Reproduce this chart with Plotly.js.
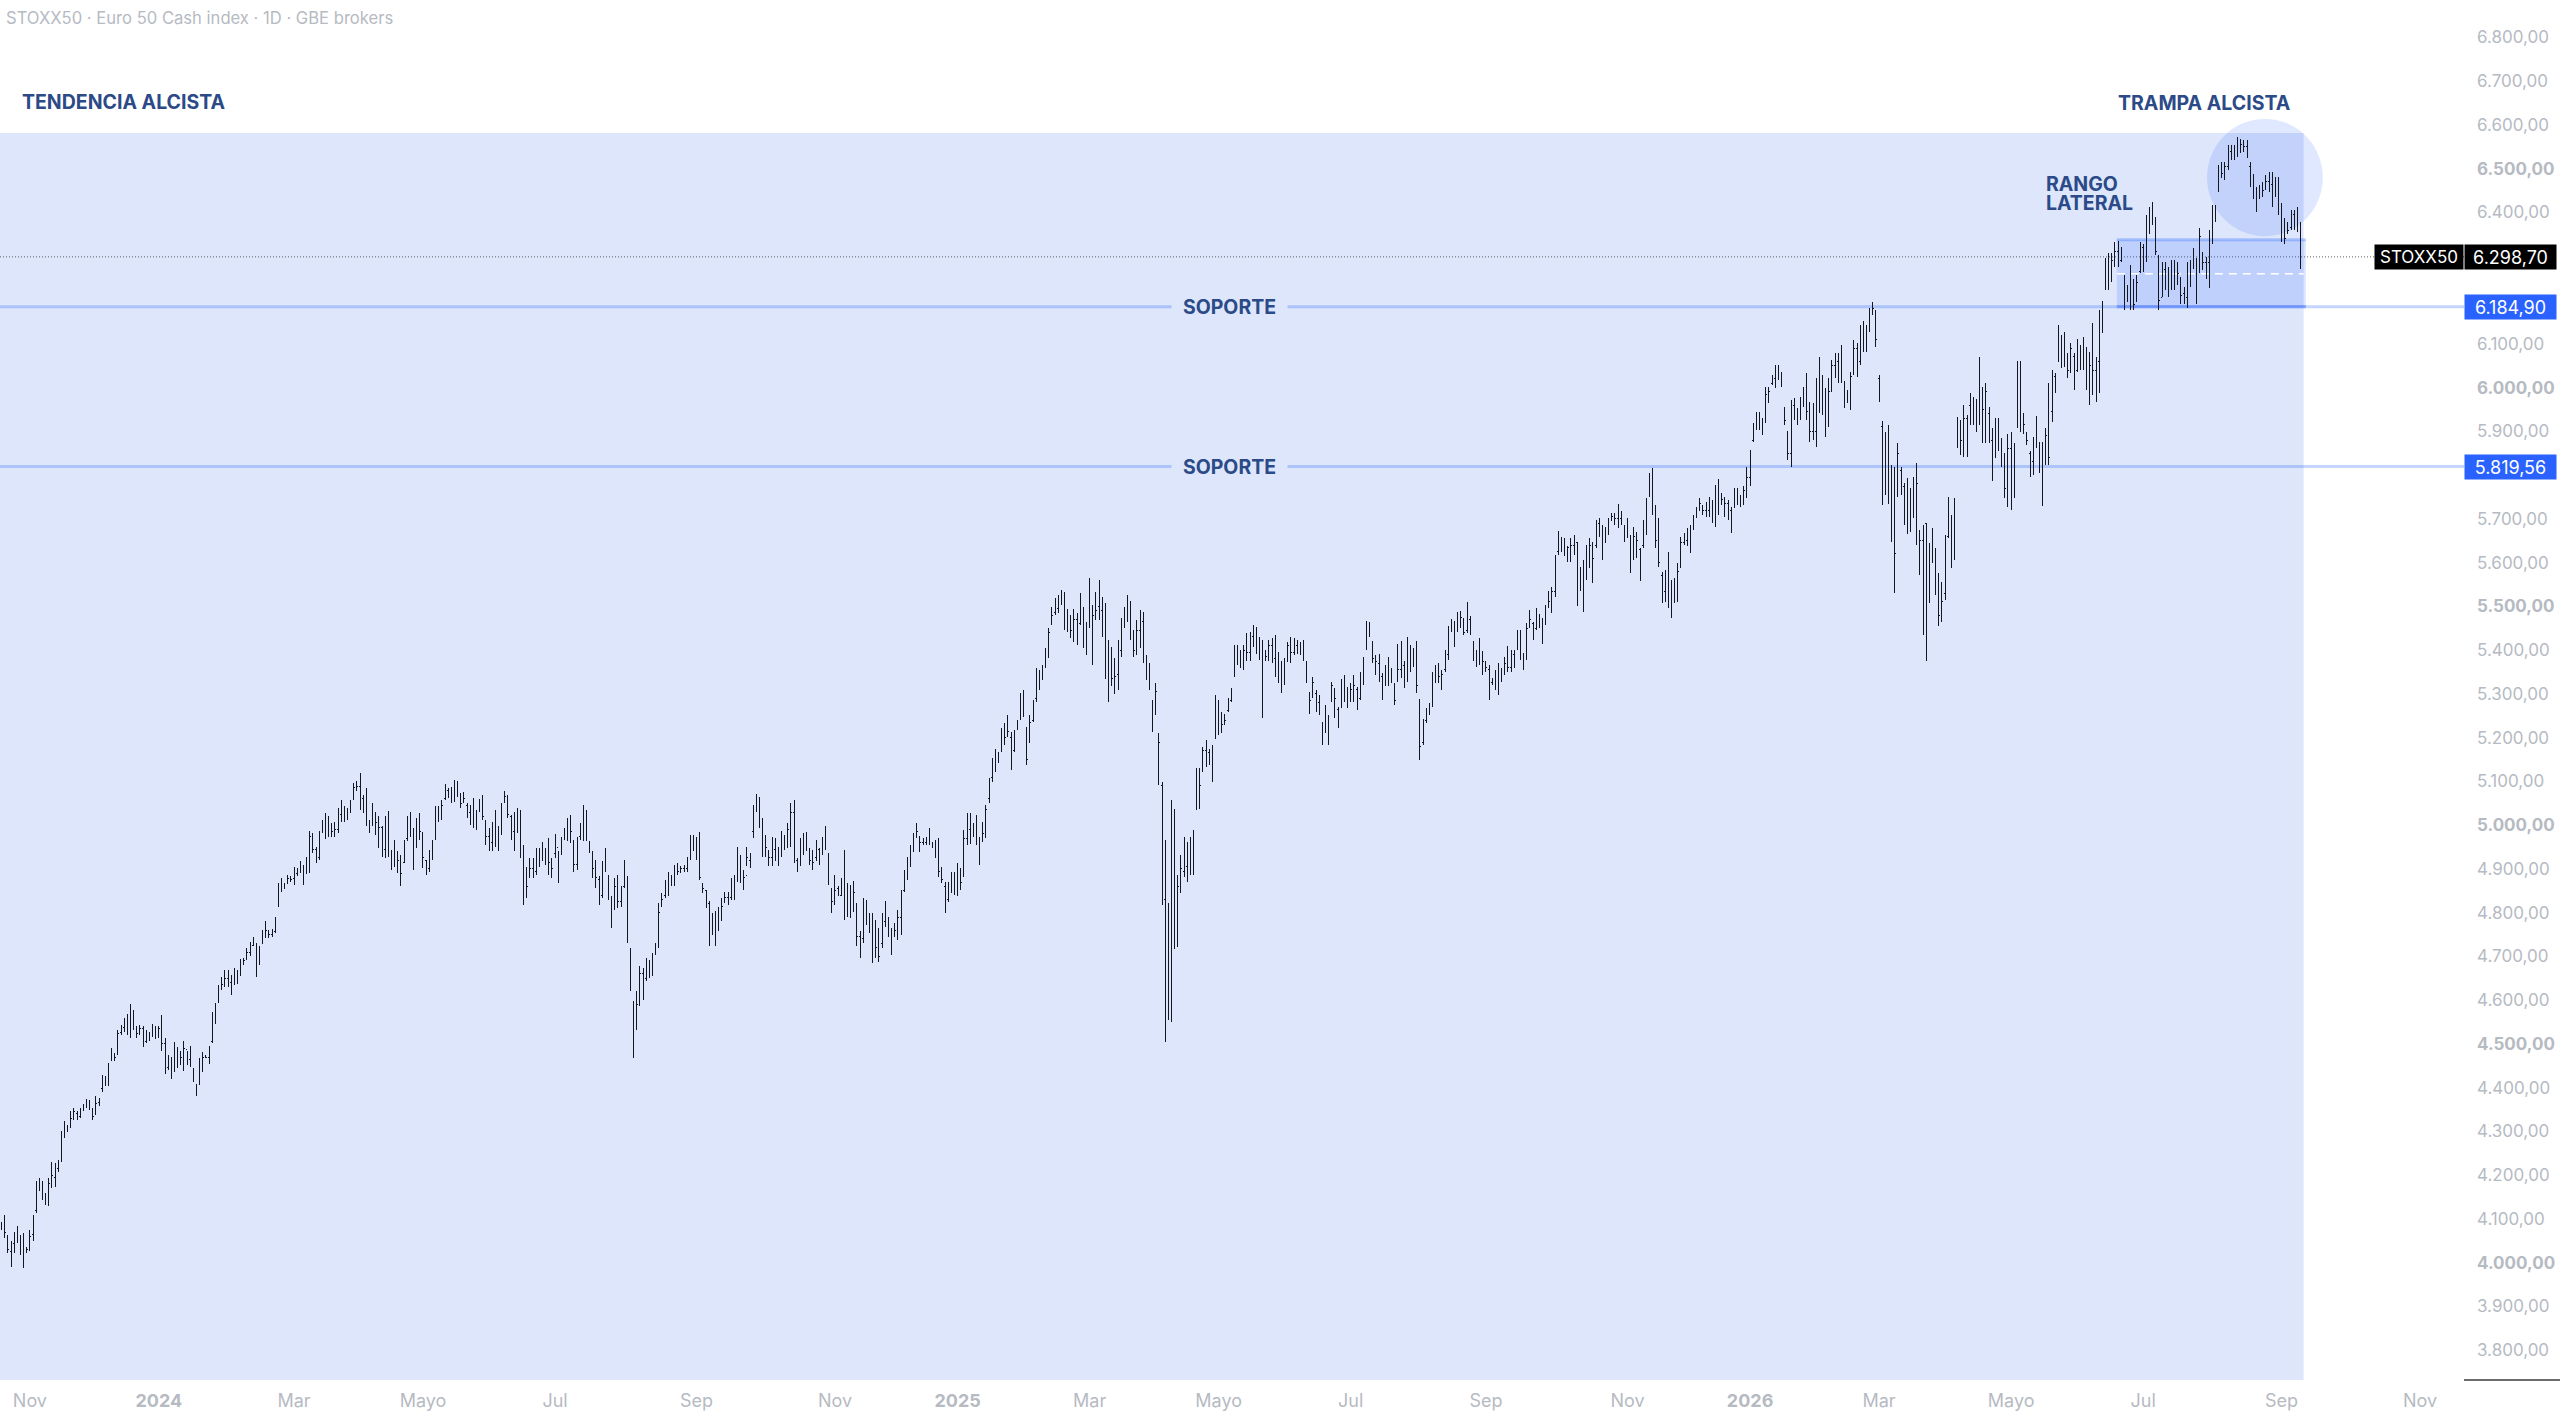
<!DOCTYPE html>
<html>
<head>
<meta charset="utf-8">
<title>STOXX50</title>
<script src="https://cdn.plot.ly/plotly-3.0.1.min.js"></script>
<style>
  html, body { margin: 0; padding: 0; background: #fff; }
  .ohlc path { shape-rendering: crispEdges; }
</style>
</head>
<body>
<div id="myDiv"></div>
<script>
// daily bars, 10 sessions per row
let highs = [
4094,4108,4064,4049,4071,4083,4064,4068,4037,4075,
4108,4187,4193,4187,4159,4193,4231,4228,4235,4300,
4324,4315,4346,4353,4346,4353,4362,4374,4372,4353,
4380,4376,4428,4426,4456,4490,4479,4532,4544,4559,
4568,4591,4578,4542,4544,4542,4532,4527,4545,4542,
4542,4566,4513,4474,4471,4504,4494,4484,4507,4483,
4496,4445,4408,4467,4481,4475,4496,4574,4593,4635,
4654,4669,4669,4658,4673,4669,4694,4696,4719,4733,
4745,4730,4723,4761,4780,4761,4763,4791,4867,4879,
4867,4885,4883,4905,4903,4917,4909,4927,4987,4981,
4951,4987,5012,5027,5020,5004,5008,5039,5058,5043,
5039,5058,5096,5100,5119,5069,5084,5012,5050,5031,
5020,4997,5020,5033,4943,4966,4940,4932,4966,5020,
5030,4993,5016,5027,4985,4921,4944,4966,5043,5043,
5058,5094,5084,5088,5103,5101,5073,5075,5050,5046,
5061,5035,5060,5069,5012,4993,5008,5035,4997,5050,
5078,5069,5024,5031,5039,5035,4955,4905,4924,4924,
4947,4947,4962,4947,4970,4925,4979,4940,4974,4993,
5016,5024,4966,4974,5005,5046,5035,4963,4940,4921,
4883,4917,4947,4886,4837,4879,4886,4860,4921,4883,
4719,4597,4620,4677,4673,4696,4692,4707,4730,4822,
4845,4875,4894,4886,4909,4913,4906,4909,4928,4978,
4978,4974,4985,4867,4852,4826,4799,4803,4814,4833,
4848,4848,4879,4886,4951,4932,4898,4951,4936,5046,
5071,5065,5016,4978,4944,4974,4970,4951,4987,4978,
5005,5050,5058,4925,4970,4982,4984,4947,4944,4966,
4947,4974,4997,4936,4856,4886,4860,4879,4943,4867,
4863,4873,4822,4757,4833,4829,4799,4799,4783,4764,
4799,4827,4791,4764,4776,4806,4852,4898,4928,4955,
4981,5004,4974,4970,4974,4993,4962,4966,4970,4905,
4871,4871,4894,4894,4913,4901,4989,5027,5027,5004,
5023,4974,5008,5046,5107,5153,5175,5168,5221,5233,
5252,5214,5217,5240,5301,5309,5225,5252,5286,5358,
5354,5366,5404,5450,5499,5518,5526,5537,5533,5495,
5480,5495,5484,5530,5499,5465,5565,5503,5533,5560,
5522,5507,5423,5406,5381,5423,5473,5499,5526,5511,
5446,5469,5492,5488,5389,5370,5286,5324,5210,5099,
4966,4821,5057,5038,4886,4932,4974,4962,4974,4989,
5130,5130,5179,5195,5175,5183,5297,5286,5259,5255,
5290,5313,5412,5412,5400,5412,5438,5442,5457,5453,
5431,5423,5400,5423,5427,5434,5396,5374,5381,5419,
5431,5427,5423,5419,5423,5374,5305,5339,5309,5297,
5236,5274,5252,5328,5313,5271,5335,5343,5316,5324,
5343,5316,5351,5385,5466,5465,5421,5389,5392,5347,
5366,5385,5358,5324,5415,5420,5374,5429,5412,5404,
5420,5289,5243,5267,5279,5351,5366,5370,5355,5400,
5454,5471,5467,5488,5490,5473,5509,5477,5421,5400,
5427,5397,5374,5366,5336,5355,5370,5359,5385,5410,
5400,5400,5446,5446,5393,5461,5492,5465,5496,5482,
5473,5503,5534,5545,5618,5672,5659,5656,5637,5656,
5663,5648,5591,5606,5640,5656,5648,5698,5701,5686,
5682,5701,5713,5713,5734,5717,5686,5701,5663,5682,
5671,5633,5697,5747,5804,5816,5732,5701,5579,5583,
5625,5560,5564,5598,5659,5667,5678,5686,5709,5728,
5747,5732,5739,5751,5743,5777,5791,5758,5751,5743,
5728,5770,5770,5755,5774,5819,5857,5918,5944,5944,
5930,6002,6002,6029,6052,6052,6036,5956,5901,5972,
5976,5953,5979,6002,6033,5968,5964,6021,6071,6029,
5998,6021,6063,6078,6078,6097,6014,5994,6036,6109,
6101,6143,6151,6143,6181,6196,6177,6029,5924,5899,
5914,5823,5819,5873,5819,5781,5793,5770,5796,5827,
5675,5686,5690,5644,5678,5633,5576,5556,5663,5751,
5709,5747,5933,5926,5960,5937,5987,5979,5975,6071,
6002,6010,5956,5907,5930,5930,5884,5850,5893,5899,
5873,6061,6061,5941,5899,5854,5888,5934,5876,5876,
5907,6010,6040,6033,6143,6120,6128,6078,6101,6078,
6111,6097,6116,6093,6082,6147,6071,6177,6198,6295,
6307,6307,6333,6336,6322,6257,6234,6280,6249,6257,
6333,6329,6394,6413,6425,6390,6303,6288,6288,6276,
6291,6291,6288,6253,6230,6288,6291,6318,6295,6364,
6310,6299,6360,6417,6417,6508,6516,6516,6554,6554,
6554,6573,6569,6566,6566,6516,6489,6459,6463,6470,
6486,6493,6493,6482,6482,6421,6387,6379,6406,6406,
6413,6379];

let lows = [
4075,4056,4022,3990,4022,4045,4018,3988,4022,4026,
4049,4113,4163,4144,4132,4130,4170,4174,4207,4231,
4285,4298,4308,4327,4327,4330,4346,4353,4349,4327,
4338,4359,4391,4403,4403,4460,4461,4475,4521,4528,
4521,4513,4532,4513,4521,4494,4502,4506,4515,4512,
4513,4483,4431,4441,4420,4437,4445,4452,4439,4452,
4448,4414,4380,4407,4437,4467,4454,4502,4545,4593,
4624,4631,4629,4612,4635,4637,4656,4681,4692,4700,
4723,4654,4681,4728,4743,4743,4745,4753,4812,4848,
4854,4865,4871,4864,4883,4890,4864,4888,4890,4936,
4913,4920,4982,4969,4974,4974,4974,4982,5008,5008,
5012,5027,5058,5077,5035,5027,4997,4982,4997,4978,
4947,4928,4924,4928,4898,4905,4890,4860,4913,4963,
4974,4898,4947,4966,4903,4886,4894,4921,4966,5008,
5012,5058,5062,5050,5054,5065,5039,5050,5016,5001,
4993,4989,5031,5012,4955,4940,4940,4951,4940,4978,
5050,5016,4966,4940,4982,4924,4818,4833,4880,4879,
4886,4905,4917,4909,4886,4879,4925,4867,4932,4966,
4963,4959,4894,4898,4966,4963,4963,4936,4879,4856,
4818,4833,4894,4829,4765,4806,4810,4814,4856,4730,
4620,4468,4532,4586,4601,4643,4650,4656,4704,4719,
4814,4833,4839,4860,4860,4886,4890,4894,4894,4921,
4940,4921,4875,4845,4810,4723,4749,4723,4757,4780,
4822,4818,4829,4829,4871,4867,4852,4906,4902,4970,
5031,4993,4928,4928,4906,4906,4917,4906,4928,4944,
4947,4951,4913,4894,4906,4932,4940,4909,4898,4917,
4909,4932,4944,4864,4799,4818,4837,4837,4784,4791,
4787,4802,4723,4696,4730,4772,4753,4684,4696,4688,
4719,4768,4745,4703,4745,4738,4749,4848,4875,4905,
4939,4970,4939,4955,4955,4955,4947,4924,4882,4867,
4799,4825,4844,4840,4837,4852,4882,4955,4958,4974,
4955,4909,4962,4970,5050,5099,5122,5141,5168,5183,
5202,5126,5168,5217,5240,5248,5137,5187,5236,5282,
5309,5332,5358,5381,5457,5480,5484,5503,5446,5442,
5427,5419,5412,5457,5404,5389,5450,5366,5469,5469,
5431,5335,5282,5317,5299,5309,5385,5450,5465,5423,
5385,5389,5404,5370,5332,5309,5214,5252,5092,4817,
4505,4555,4551,4718,4722,4844,4882,4871,4886,4886,
5034,5038,5122,5134,5137,5099,5198,5206,5210,5229,
5259,5282,5339,5366,5358,5354,5374,5374,5408,5392,
5377,5244,5374,5374,5370,5339,5324,5301,5320,5374,
5370,5389,5390,5389,5374,5324,5255,5290,5259,5252,
5183,5210,5183,5282,5244,5221,5267,5282,5267,5282,
5282,5263,5286,5320,5400,5431,5370,5343,5328,5286,
5317,5317,5324,5274,5328,5336,5313,5328,5351,5362,
5301,5149,5183,5233,5252,5271,5324,5324,5309,5351,
5378,5442,5408,5442,5450,5435,5439,5435,5374,5362,
5366,5343,5351,5286,5320,5309,5298,5328,5343,5351,
5351,5359,5400,5378,5355,5378,5450,5423,5446,5450,
5413,5458,5496,5484,5522,5618,5625,5614,5602,5602,
5618,5500,5534,5488,5560,5587,5553,5633,5659,5606,
5644,5663,5694,5686,5679,5686,5647,5656,5576,5606,
5610,5557,5633,5663,5751,5709,5633,5591,5507,5511,
5496,5473,5507,5511,5587,5640,5637,5621,5675,5701,
5717,5709,5705,5705,5690,5682,5709,5732,5705,5697,
5667,5724,5732,5728,5732,5747,5774,5876,5903,5903,
5892,5918,5964,6006,5998,6017,6002,5915,5835,5819,
5926,5915,5926,5956,5926,5876,5880,5865,5941,5937,
5888,5911,5991,6021,6010,6010,5953,5964,5949,6029,
6025,6052,6082,6082,6128,6166,6093,5968,5732,5755,
5735,5648,5530,5751,5755,5686,5665,5671,5701,5640,
5572,5435,5374,5507,5602,5526,5454,5465,5515,5656,
5587,5606,5861,5846,5842,5842,5914,5914,5899,5914,
5873,5873,5873,5787,5838,5854,5819,5747,5728,5720,
5747,5907,5899,5895,5869,5796,5800,5861,5804,5730,
5823,5823,5922,5987,6059,6044,6048,6021,6033,5994,
6036,6040,6040,5994,5960,5983,5968,5987,6124,6223,
6223,6242,6276,6276,6288,6177,6196,6177,6177,6196,
6261,6265,6288,6352,6371,6303,6177,6208,6223,6208,
6223,6223,6234,6192,6192,6181,6230,6272,6192,6261,
6268,6249,6227,6329,6379,6447,6478,6474,6497,6520,
6520,6527,6535,6539,6524,6459,6432,6402,6432,6436,
6451,6447,6413,6436,6394,6333,6329,6352,6360,6360,
6356,6272];

let closes = [
4085,4070,4030,4040,4060,4055,4040,4000,4030,4060,
4100,4180,4170,4150,4140,4180,4200,4215,4225,4290,
4305,4310,4330,4345,4335,4345,4355,4365,4355,4335,
4365,4370,4420,4415,4445,4475,4470,4525,4535,4545,
4540,4530,4540,4525,4535,4505,4520,4515,4535,4520,
4535,4500,4445,4460,4450,4490,4455,4470,4490,4465,
4480,4425,4390,4455,4470,4470,4480,4560,4580,4625,
4635,4650,4640,4630,4660,4650,4685,4690,4710,4725,
4735,4670,4715,4750,4760,4750,4755,4775,4860,4860,
4860,4878,4876,4890,4895,4900,4880,4905,4975,4945,
4925,4975,4995,5000,4990,4985,4990,5025,5040,5025,
5030,5050,5085,5088,5060,5055,5010,5000,5030,5005,
4995,4945,5000,4960,4925,4930,4920,4890,4950,5005,
5000,4950,4990,4985,4925,4900,4925,4955,5035,5030,
5045,5080,5072,5065,5090,5080,5050,5060,5030,5015,
5050,5010,5045,5020,4975,4960,4985,4970,4965,5040,
5065,5025,4985,4985,5000,4950,4855,4860,4900,4895,
4925,4925,4935,4925,4915,4900,4960,4905,4960,4980,
4990,4985,4910,4965,4985,5020,4975,4950,4900,4880,
4840,4890,4925,4845,4790,4860,4825,4830,4905,4760,
4650,4520,4590,4660,4630,4675,4670,4690,4725,4800,
4830,4865,4860,4875,4880,4895,4900,4900,4915,4945,
4960,4945,4880,4855,4830,4745,4770,4745,4800,4815,
4835,4830,4860,4855,4925,4880,4880,4925,4925,5030,
5050,5010,4950,4950,4925,4950,4940,4925,4960,4955,
4990,5030,4925,4905,4950,4965,4955,4920,4915,4950,
4925,4955,4960,4880,4825,4850,4845,4860,4800,4835,
4805,4845,4745,4710,4800,4785,4790,4715,4720,4700,
4785,4790,4765,4740,4760,4790,4840,4885,4905,4940,
4960,4985,4960,4960,4965,4965,4955,4935,4895,4875,
4825,4860,4870,4855,4880,4870,4970,4990,4970,4985,
4985,4925,4980,5035,5090,5125,5155,5150,5205,5200,
5215,5150,5200,5235,5290,5260,5150,5235,5280,5345,
5330,5350,5395,5440,5480,5500,5510,5520,5470,5460,
5445,5470,5430,5490,5430,5455,5470,5480,5490,5490,
5455,5410,5300,5335,5340,5400,5465,5490,5510,5445,
5400,5445,5465,5390,5345,5325,5240,5305,5190,4830,
4600,4770,5020,4770,4860,4900,4905,4935,4965,4955,
5115,5090,5170,5165,5160,5125,5280,5255,5230,5240,
5280,5300,5400,5385,5370,5400,5395,5430,5425,5400,
5420,5390,5385,5410,5380,5360,5380,5320,5370,5410,
5395,5410,5400,5400,5390,5335,5285,5325,5280,5280,
5205,5260,5200,5320,5290,5240,5325,5320,5300,5310,
5320,5285,5330,5375,5440,5440,5380,5375,5345,5325,
5340,5345,5335,5285,5355,5400,5330,5345,5390,5385,
5320,5180,5210,5255,5270,5340,5345,5340,5345,5390,
5440,5460,5445,5465,5475,5440,5490,5450,5390,5380,
5415,5375,5360,5295,5325,5340,5310,5340,5370,5360,
5390,5385,5435,5395,5370,5450,5470,5430,5460,5470,
5450,5490,5510,5535,5605,5650,5635,5625,5635,5640,
5650,5540,5575,5570,5625,5640,5610,5690,5680,5620,
5675,5680,5705,5700,5700,5695,5660,5680,5600,5660,
5650,5575,5680,5735,5790,5735,5650,5600,5530,5520,
5590,5505,5540,5580,5645,5650,5665,5650,5690,5715,
5735,5720,5720,5740,5705,5715,5775,5745,5735,5720,
5685,5755,5750,5735,5765,5795,5840,5905,5930,5920,
5905,5985,5990,6020,6030,6040,6020,5925,5850,5960,
5950,5945,5965,5985,5945,5900,5900,6000,6050,5955,
5905,5990,6050,6060,6050,6020,5960,5985,6025,6090,
6040,6130,6095,6125,6170,6180,6110,5990,5870,5830,
5790,5775,5620,5850,5795,5740,5750,5690,5745,5780,
5650,5470,5530,5600,5660,5560,5480,5510,5650,5710,
5625,5680,5910,5880,5930,5900,5975,5945,5915,6030,
5950,5990,5890,5800,5920,5890,5840,5770,5860,5740,
5770,6040,5920,5915,5880,5830,5870,5925,5820,5830,
5890,5840,6000,6000,6120,6055,6100,6040,6090,6000,
6095,6060,6100,6010,6050,6040,6060,6100,6190,6250,
6290,6290,6310,6290,6305,6200,6215,6255,6190,6240,
6320,6285,6370,6395,6375,6310,6200,6270,6245,6260,
6275,6240,6260,6210,6200,6280,6245,6300,6200,6345,
6285,6280,6340,6400,6390,6490,6490,6505,6540,6530,
6540,6540,6555,6550,6530,6480,6445,6410,6450,6450,
6470,6465,6480,6445,6405,6350,6340,6360,6395,6375,
6375,6298.7];

let opens = [
4090,4085,4055,4025,4045,4062,4052,4040,4032,4028,
4065,4120,4178,4168,4150,4140,4178,4195,4215,4240,
4295,4303,4312,4332,4342,4335,4348,4356,4365,4350,
4340,4366,4398,4420,4412,4465,4475,4480,4527,4537,
4545,4540,4535,4540,4524,4535,4506,4520,4517,4535,
4520,4535,4500,4446,4460,4450,4490,4456,4470,4488,
4465,4440,4405,4410,4455,4472,4470,4505,4560,4595,
4628,4636,4650,4640,4636,4660,4658,4685,4695,4710,
4726,4725,4685,4730,4750,4758,4750,4756,4815,4862,
4862,4868,4875,4878,4890,4895,4898,4890,4905,4970,
4945,4925,4985,4995,5000,4990,4985,4990,5025,5038,
5025,5030,5060,5085,5088,5060,5055,5008,5000,5028,
5005,4995,4945,5000,4940,4925,4930,4920,4915,4970,
5005,4990,4950,4990,4980,4920,4900,4925,4970,5035,
5030,5060,5080,5072,5065,5090,5065,5052,5045,5030,
5015,5030,5035,5045,5010,4975,4960,4985,4965,4985,
5055,5060,5020,4985,4985,5000,4950,4855,4885,4900,
4895,4925,4925,4935,4925,4905,4935,4950,4940,4975,
4980,4990,4960,4910,4975,4985,5020,4960,4930,4900,
4875,4840,4895,4880,4835,4810,4860,4825,4860,4880,
4710,4590,4535,4595,4660,4650,4680,4670,4710,4725,
4820,4840,4865,4860,4875,4888,4895,4900,4900,4925,
4945,4955,4945,4860,4850,4820,4760,4790,4770,4800,
4825,4835,4835,4865,4875,4920,4885,4885,4920,4985,
5035,5050,5010,4950,4935,4925,4945,4940,4930,4960,
4960,4990,5030,4920,4910,4945,4965,4945,4915,4925,
4945,4935,4950,4925,4850,4825,4855,4840,4860,4800,
4835,4810,4815,4745,4740,4795,4785,4790,4720,4715,
4730,4780,4785,4760,4750,4760,4790,4850,4885,4905,
4945,4972,4975,4960,4960,4960,4960,4950,4935,4895,
4860,4830,4860,4870,4860,4880,4890,4970,4990,4980,
4985,4970,4970,4980,5060,5110,5125,5155,5170,5205,
5205,5200,5170,5218,5250,5290,5200,5190,5240,5290,
5345,5335,5360,5395,5460,5485,5495,5510,5515,5470,
5460,5430,5470,5460,5490,5420,5460,5480,5480,5500,
5490,5455,5410,5320,5335,5345,5400,5465,5490,5510,
5440,5400,5445,5465,5380,5360,5280,5260,5200,5090,
4830,4600,4770,5020,4770,4860,4895,4905,4935,4965,
5050,5110,5125,5170,5165,5160,5205,5275,5250,5232,
5262,5285,5345,5400,5385,5370,5400,5395,5430,5425,
5400,5415,5390,5385,5410,5380,5360,5375,5325,5375,
5410,5395,5410,5400,5400,5370,5300,5295,5300,5280,
5230,5215,5250,5285,5310,5265,5270,5325,5315,5300,
5310,5310,5290,5330,5405,5445,5410,5380,5370,5340,
5325,5340,5345,5320,5330,5355,5365,5330,5345,5390,
5380,5280,5190,5240,5255,5275,5340,5345,5340,5355,
5390,5445,5460,5445,5465,5470,5445,5470,5415,5390,
5380,5395,5370,5355,5325,5320,5340,5330,5345,5370,
5360,5390,5402,5430,5390,5380,5460,5460,5450,5460,
5470,5460,5500,5510,5535,5625,5650,5635,5625,5635,
5640,5645,5540,5575,5570,5625,5640,5640,5690,5680,
5650,5675,5700,5705,5700,5700,5690,5665,5650,5615,
5655,5630,5640,5680,5755,5790,5725,5650,5570,5535,
5520,5545,5520,5540,5590,5645,5650,5665,5680,5705,
5720,5730,5720,5720,5740,5705,5715,5750,5745,5735,
5720,5730,5755,5750,5740,5765,5795,5880,5905,5930,
5920,5925,5985,6010,6020,6025,6030,5950,5895,5850,
5960,5950,5945,5965,5985,5945,5900,5900,5995,6025,
5955,5915,6000,6050,6060,6050,6010,5970,5975,6035,
6090,6060,6130,6095,6135,6170,6170,6020,5910,5870,
5830,5790,5780,5760,5810,5775,5740,5750,5720,5760,
5660,5650,5690,5540,5600,5630,5550,5480,5530,5660,
5700,5620,5920,5910,5880,5930,5960,5970,5945,5920,
5990,5950,5940,5880,5840,5920,5870,5840,5770,5860,
5840,5910,6040,5920,5895,5850,5830,5870,5870,5835,
5835,5890,5945,6025,6070,6110,6055,6075,6040,6070,
6040,6090,6060,6085,6010,6050,6040,6060,6130,6285,
6250,6285,6290,6310,6290,6250,6200,6215,6240,6200,
6265,6320,6295,6365,6395,6375,6290,6205,6270,6245,
6260,6275,6245,6250,6215,6205,6280,6280,6280,6270,
6300,6285,6285,6340,6400,6455,6490,6490,6505,6540,
6530,6540,6540,6555,6550,6505,6480,6445,6435,6450,
6455,6470,6465,6475,6445,6400,6350,6365,6365,6395,
6375,6375];

// x axis: session number of each month label
let monthTicks = [9,50,93,134,176,221,265,304,346,387,429,472,517,556,597,639,681,725,769];
let monthLabels = ['Nov','<b>2024</b>','Mar','Mayo','Jul','Sep','Nov','<b>2025</b>','Mar','Mayo','Jul','Sep','Nov','<b>2026</b>','Mar','Mayo','Jul','Sep','Nov'];

// y axis, 5800 6200 and 6300 sit under the price boxes so they are left out
let priceTicks = [3800,3900,4000,4100,4200,4300,4400,4500,4600,4700,4800,4900,5000,5100,5200,5300,5400,5500,5600,5700,5900,6000,6100,6400,6500,6600,6700,6800];
let priceLabels = ['3.800,00','3.900,00','<b>4.000,00</b>','4.100,00','4.200,00','4.300,00','4.400,00','<b>4.500,00</b>','4.600,00','4.700,00','4.800,00','4.900,00','<b>5.000,00</b>','5.100,00','5.200,00','5.300,00','5.400,00','<b>5.500,00</b>','5.600,00','5.700,00','5.900,00','<b>6.000,00</b>','6.100,00','6.400,00','<b>6.500,00</b>','6.600,00','6.700,00','6.800,00'];

let lastPrice = 6298.7;
let lastPriceText = '6.298,70';
let supports = [6184.9, 5819.56];
let supportTexts = ['6.184,90', '5.819,56'];
let rangeTop = 6338;
let rangeMid = 6260;

const FONT = 'Inter, "Noto Sans", sans-serif';
const NAVY = '#2b4a87';
const GREY = '#b6bac2';
const REGION = '#dde6fb';
const PLOT_W = 2464, PLOT_H = 1380;

let sessions = highs.map((_, i) => i);

let trace = {
    type: 'ohlc',
    x: sessions,
    open: opens,
    high: highs,
    low: lows,
    close: closes,
    tickwidth: 0.25,
    increasing: { line: { color: '#14171f', width: 1 } },
    decreasing: { line: { color: '#14171f', width: 1 } },
    hoverinfo: 'skip',
    showlegend: false
};

let shapes = [
    // big shaded trend zone
    { type: 'rect', layer: 'below', xref: 'x', yref: 'paper', x0: -0.5, x1: 732, y0: 0, y1: 1 - 133 / PLOT_H, fillcolor: REGION, line: { width: 0 } },
    // circle round the top
    { type: 'circle', layer: 'below', xref: 'x', yref: 'y', x0: 701.3, x1: 738.1, y0: 6346, y1: 6614, fillcolor: 'rgba(41,98,255,0.15)', line: { width: 0 } },
    // lateral range box
    { type: 'rect', layer: 'below', xref: 'x', yref: 'y', x0: 672.6, x1: 732.7, y0: supports[0], y1: rangeTop, fillcolor: 'rgba(41,98,255,0.17)', line: { width: 0 } },
    { type: 'line', layer: 'below', xref: 'x', yref: 'y', x0: 672.6, x1: 732.7, y0: rangeTop, y1: rangeTop, line: { color: 'rgba(41,98,255,0.3)', width: 3 } },
    { type: 'line', layer: 'below', xref: 'x', yref: 'y', x0: 672.6, x1: 732.7, y0: supports[0], y1: supports[0], line: { color: 'rgba(41,98,255,0.4)', width: 3 } },
    { type: 'line', layer: 'below', xref: 'x', yref: 'y', x0: 672.6, x1: 732, y0: rangeMid, y1: rangeMid, line: { color: '#ffffff', width: 1.5, dash: '8px,6px' } },
    // supports and last price
    { type: 'line', layer: 'below', xref: 'paper', yref: 'y', x0: 0, x1: 1, y0: supports[0], y1: supports[0], line: { color: 'rgba(41,98,255,0.27)', width: 3 } },
    { type: 'line', layer: 'below', xref: 'paper', yref: 'y', x0: 0, x1: 1, y0: supports[1], y1: supports[1], line: { color: 'rgba(41,98,255,0.27)', width: 3 } },
    { type: 'line', layer: 'below', xref: 'paper', yref: 'y', x0: 0, x1: 1, y0: lastPrice, y1: lastPrice, line: { color: '#5c5f66', width: 1, dash: '1px,2px' } },
    // small rule under the price scale
    { type: 'line', xref: 'paper', yref: 'paper', x0: 1, x1: 1 + 96 / PLOT_W, y0: 0, y1: 0, line: { color: '#3a3a3a', width: 1.5 } }
];

function note(text, px, py) {
    return {
        text: '<b>' + text + '</b>', xref: 'paper', yref: 'paper',
        x: px / PLOT_W, y: 1 - py / PLOT_H, xanchor: 'left', yanchor: 'middle',
        showarrow: false, font: { family: FONT, size: 19.5, color: NAVY }
    };
}

function priceBox(text, y, color) {
    return {
        text: text, xref: 'paper', yref: 'y', x: 1, y: y, xanchor: 'left', yanchor: 'middle',
        width: 91, height: 24, align: 'center', showarrow: false, bgcolor: color, borderpad: 0,
        font: { family: FONT, size: 18, color: '#ffffff' }
    };
}

function supportNote(y) {
    return {
        text: '<b>SOPORTE</b>', xref: 'x', yref: 'y', x: 390.6, y: y, xanchor: 'center', yanchor: 'middle',
        width: 115, height: 24, align: 'center', showarrow: false, bgcolor: REGION, borderpad: 0,
        font: { family: FONT, size: 19.5, color: NAVY }
    };
}

let annotations = [
    note('TENDENCIA ALCISTA', 20, 102),
    note('TRAMPA ALCISTA', 2116, 103),
    note('RANGO', 2044, 184),
    note('LATERAL', 2044, 203),
    supportNote(supports[0]),
    supportNote(supports[1]),
    priceBox(supportTexts[0], supports[0], '#2962ff'),
    priceBox(supportTexts[1], supports[1], '#2962ff'),
    priceBox(lastPriceText, lastPrice, '#000000'),
    {
        text: 'STOXX50', xref: 'paper', yref: 'y', x: 1, y: lastPrice, xanchor: 'right', yanchor: 'middle',
        width: 88, height: 24, align: 'center', showarrow: false, bgcolor: '#000000', borderpad: 0,
        font: { family: FONT, size: 17, color: '#ffffff' }
    }
];

let layout = {
    width: 2560,
    height: 1415,
    margin: { l: 0, r: 96, t: 0, b: 35, pad: 0 },
    paper_bgcolor: '#ffffff',
    plot_bgcolor: '#ffffff',
    showlegend: false,
    hovermode: false,
    font: { family: FONT, color: GREY },
    title: {
        text: 'STOXX50 · Euro 50 Cash index · 1D · GBE brokers',
        x: 6 / 2560, xanchor: 'left', xref: 'container',
        y: 1 - 18 / 1415, yanchor: 'middle', yref: 'container',
        font: { family: FONT, size: 16.6, color: GREY }
    },
    xaxis: {
        type: 'linear',
        range: [-0.5, 783],
        rangeslider: { visible: false },
        tickmode: 'array',
        tickvals: monthTicks,
        ticktext: monthLabels,
        tickangle: 0,
        ticks: '',
        ticklabelstandoff: 8,
        showgrid: false,
        zeroline: false,
        showline: false,
        tickfont: { family: FONT, size: 18, color: GREY }
    },
    yaxis: {
        side: 'right',
        range: [3732, 6885.7],
        tickmode: 'array',
        tickvals: priceTicks,
        ticktext: priceLabels,
        ticks: '',
        ticklabelstandoff: 12,
        showgrid: false,
        zeroline: false,
        showline: false,
        tickfont: { family: FONT, size: 17, color: GREY }
    },
    shapes: shapes,
    annotations: annotations
};

Plotly.newPlot('myDiv', [trace], layout, { staticPlot: true, displayModeBar: false });
</script>
</body>
</html>
